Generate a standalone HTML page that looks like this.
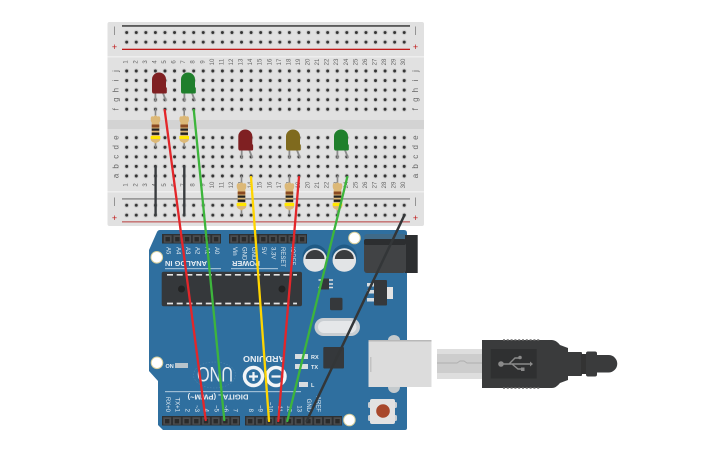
<!DOCTYPE html>
<html><head><meta charset="utf-8"><style>
html,body{margin:0;padding:0;background:#fff;width:725px;height:453px;overflow:hidden}
svg{display:block}
text{font-family:"Liberation Sans",sans-serif}
.n{font-size:6px;fill:#666;text-anchor:middle;dominant-baseline:central}
.l{font-size:8px;fill:#666;text-anchor:middle;dominant-baseline:central}
.p{font-size:6px;fill:#e4ecf2;dominant-baseline:central}
.e{text-anchor:end}
.w{fill:#e8eef3}
</style></head><body>
<svg width="725" height="453" viewBox="0 0 725 453" xmlns="http://www.w3.org/2000/svg">
<defs>
<pattern id="d1" patternUnits="userSpaceOnUse" x="121.9" y="27.7" width="9.57" height="9.6"><circle cx="4.785" cy="4.8" r="2.6" fill="#cfcfcf"/><circle cx="4.785" cy="4.8" r="1.5" fill="#333"/></pattern>
<pattern id="d2" patternUnits="userSpaceOnUse" x="121.9" y="66.2" width="9.57" height="9.57"><circle cx="4.785" cy="4.785" r="2.6" fill="#cfcfcf"/><circle cx="4.785" cy="4.785" r="1.5" fill="#333"/></pattern>
<pattern id="d3" patternUnits="userSpaceOnUse" x="121.9" y="132.9" width="9.57" height="9.57"><circle cx="4.785" cy="4.785" r="2.6" fill="#cfcfcf"/><circle cx="4.785" cy="4.785" r="1.5" fill="#333"/></pattern>
<pattern id="d4" patternUnits="userSpaceOnUse" x="121.9" y="200.3" width="9.57" height="9.9"><circle cx="4.785" cy="4.95" r="2.6" fill="#cfcfcf"/><circle cx="4.785" cy="4.95" r="1.5" fill="#333"/></pattern>
<g id="res">
<path d="M0 -7V0M0 26V32" stroke="#8a8a8a" stroke-width="1.6"/>
<path d="M-2 1Q-4.800 0 -4.800 3.500Q-4.800 6 -3.800 7V20Q-4.800 21 -4.800 23.500Q-4.800 26 -1.500 27L0 28L1.500 27Q4.800 26 4.800 23.500Q4.800 21 3.800 20V7Q4.800 6 4.800 3.500Q4.800 0 2 1Q0 -1 -2 1Z" fill="#dcb877"/>
<rect x="-3.800" y="9" width="7.600" height="3" fill="#8a4a22"/>
<rect x="-3.800" y="13" width="7.600" height="2.200" fill="#222"/>
<rect x="-3.800" y="17" width="7.600" height="2.400" fill="#222"/>
<rect x="-4.800" y="20.500" width="9.600" height="3" fill="#ffe600"/>
</g>
<g id="led">
<path d="M-3.600 19V29M3.600 19L7 28" fill="none" stroke="#8c8c8c" stroke-width="1.800"/>
<path d="M-7 18V6.500A7 7 0 0 1 7 6.500V14L7.800 15V19.500Q7.800 20.500 6 20.500H-5.500Q-7 20.500 -7 18Z"/>
</g>
<g id="hdr"><rect x="0.800" y="0.800" width="7.800" height="7.400" fill="#4b4d4f"/><rect x="2.500" y="2.500" width="4.400" height="4.400" fill="#2a2a2a"/></g>
</defs>

<!-- breadboard -->
<rect x="107.500" y="22" width="316.500" height="204" rx="2" fill="#e1e1e1"/>
<rect x="107.500" y="56" width="316.500" height="1.500" fill="#eeeeee"/>
<rect x="107.500" y="120" width="316.500" height="9" fill="#d3d3d3"/>
<rect x="107.500" y="191" width="316.500" height="1.500" fill="#eeeeee"/>
<rect x="122" y="25.300" width="288" height="1.300" fill="#222"/>
<rect x="122" y="48.700" width="288" height="1.300" fill="#c01818"/>
<rect x="122" y="198.200" width="288" height="1.400" fill="#888"/>
<rect x="122" y="221" width="288" height="1.600" fill="#c77a7a"/>
<rect x="121.900" y="27.700" width="287.100" height="19.200" fill="url(#d1)"/>
<rect x="121.900" y="66.200" width="287.100" height="47.850" fill="url(#d2)"/>
<rect x="121.900" y="132.900" width="287.100" height="47.850" fill="url(#d3)"/>
<rect x="121.900" y="200.300" width="287.100" height="19.800" fill="url(#d4)"/>
<g font-size="9">
<text x="114.500" y="30" text-anchor="middle" fill="#777" dominant-baseline="central">|</text>
<text x="114.500" y="47" text-anchor="middle" fill="#c01818" dominant-baseline="central">+</text>
<text x="415.500" y="30" text-anchor="middle" fill="#777" dominant-baseline="central">|</text>
<text x="415.500" y="47" text-anchor="middle" fill="#c01818" dominant-baseline="central">+</text>
<text x="114.500" y="201" text-anchor="middle" fill="#777" dominant-baseline="central">|</text>
<text x="114.500" y="218" text-anchor="middle" fill="#c01818" dominant-baseline="central">+</text>
<text x="415.500" y="201" text-anchor="middle" fill="#777" dominant-baseline="central">|</text>
<text x="415.500" y="218" text-anchor="middle" fill="#c01818" dominant-baseline="central">+</text>
</g>
<g transform="rotate(-90)" class="nums">
<text class="n" x="-62" y="126.7">1</text><text class="n" x="-62" y="136.3">2</text><text class="n" x="-62" y="145.8">3</text><text class="n" x="-62" y="155.4">4</text><text class="n" x="-62" y="165">5</text><text class="n" x="-62" y="174.5">6</text><text class="n" x="-62" y="184.1">7</text><text class="n" x="-62" y="193.7">8</text><text class="n" x="-62" y="203.3">9</text><text class="n" x="-62" y="212.8">10</text><text class="n" x="-62" y="222.4">11</text><text class="n" x="-62" y="232">12</text><text class="n" x="-62" y="241.5">13</text><text class="n" x="-62" y="251.1">14</text><text class="n" x="-62" y="260.7">15</text><text class="n" x="-62" y="270.3">16</text><text class="n" x="-62" y="279.8">17</text><text class="n" x="-62" y="289.4">18</text><text class="n" x="-62" y="299">19</text><text class="n" x="-62" y="308.5">20</text><text class="n" x="-62" y="318.1">21</text><text class="n" x="-62" y="327.7">22</text><text class="n" x="-62" y="337.2">23</text><text class="n" x="-62" y="346.8">24</text><text class="n" x="-62" y="356.4">25</text><text class="n" x="-62" y="366">26</text><text class="n" x="-62" y="375.5">27</text><text class="n" x="-62" y="385.1">28</text><text class="n" x="-62" y="394.7">29</text><text class="n" x="-62" y="404.2">30</text>
<text class="n" x="-185" y="126.7">1</text><text class="n" x="-185" y="136.3">2</text><text class="n" x="-185" y="145.8">3</text><text class="n" x="-185" y="155.4">4</text><text class="n" x="-185" y="165">5</text><text class="n" x="-185" y="174.5">6</text><text class="n" x="-185" y="184.1">7</text><text class="n" x="-185" y="193.7">8</text><text class="n" x="-185" y="203.3">9</text><text class="n" x="-185" y="212.8">10</text><text class="n" x="-185" y="222.4">11</text><text class="n" x="-185" y="232">12</text><text class="n" x="-185" y="241.5">13</text><text class="n" x="-185" y="251.1">14</text><text class="n" x="-185" y="260.7">15</text><text class="n" x="-185" y="270.3">16</text><text class="n" x="-185" y="279.8">17</text><text class="n" x="-185" y="289.4">18</text><text class="n" x="-185" y="299">19</text><text class="n" x="-185" y="308.5">20</text><text class="n" x="-185" y="318.1">21</text><text class="n" x="-185" y="327.7">22</text><text class="n" x="-185" y="337.2">23</text><text class="n" x="-185" y="346.8">24</text><text class="n" x="-185" y="356.4">25</text><text class="n" x="-185" y="366">26</text><text class="n" x="-185" y="375.5">27</text><text class="n" x="-185" y="385.1">28</text><text class="n" x="-185" y="394.7">29</text><text class="n" x="-185" y="404.2">30</text>
<text class="l" x="-71" y="116">j</text><text class="l" x="-80.600" y="116">i</text><text class="l" x="-90.100" y="116">h</text><text class="l" x="-99.700" y="116">g</text><text class="l" x="-109.300" y="116">f</text>
<text class="l" x="-137.700" y="116">e</text><text class="l" x="-147.300" y="116">d</text><text class="l" x="-156.800" y="116">c</text><text class="l" x="-166.400" y="116">b</text><text class="l" x="-176" y="116">a</text>
<text class="l" x="-71" y="415.500">j</text><text class="l" x="-80.600" y="415.500">i</text><text class="l" x="-90.100" y="415.500">h</text><text class="l" x="-99.700" y="415.500">g</text><text class="l" x="-109.300" y="415.500">f</text>
<text class="l" x="-137.700" y="415.500">e</text><text class="l" x="-147.300" y="415.500">d</text><text class="l" x="-156.800" y="415.500">c</text><text class="l" x="-166.400" y="415.500">b</text><text class="l" x="-176" y="415.500">a</text>
</g>

<!-- resistors -->
<use href="#res" x="155.500" y="115.500"/>
<use href="#res" x="184.200" y="115.500"/>
<use href="#res" x="241.500" y="182.500"/>
<use href="#res" x="289.400" y="182.500"/>
<use href="#res" x="337.500" y="182.500"/>
<!-- LEDs -->
<use href="#led" x="159" y="73" fill="#7f2022"/>
<use href="#led" x="188" y="73" fill="#1f7f2c"/>
<use href="#led" x="245.300" y="130" fill="#7f2022"/>
<use href="#led" x="293" y="130" fill="#7f6a1e"/>
<use href="#led" x="341" y="130" fill="#1f7f2c"/>
<!-- jumpers on breadboard -->
<path d="M155.600 167V215M184.300 167V215" stroke="#3a3d40" stroke-width="2.400" stroke-linecap="round"/>

<!-- Arduino -->
<path d="M160 230H404Q407 230 407 233V428Q407 430 405 430H163L158 425V381L149 371V250L157 232Q158 230 160 230Z" fill="#2f6f9f"/>
<!-- headers -->
<rect x="162" y="234" width="59" height="9.500" fill="#2e3032"/>
<rect x="229" y="234" width="78" height="9.500" fill="#2e3032"/>
<rect x="162" y="416" width="78" height="9.500" fill="#2e3032"/>
<rect x="245" y="416" width="97" height="9.500" fill="#2e3032"/>
<g>
<use href="#hdr" x="163" y="234.500"/><use href="#hdr" x="172.700" y="234.500"/><use href="#hdr" x="182.400" y="234.500"/><use href="#hdr" x="192" y="234.500"/><use href="#hdr" x="201.700" y="234.500"/><use href="#hdr" x="211.400" y="234.500"/>
<use href="#hdr" x="229.500" y="234.500"/><use href="#hdr" x="239.200" y="234.500"/><use href="#hdr" x="248.900" y="234.500"/><use href="#hdr" x="258.600" y="234.500"/><use href="#hdr" x="268.300" y="234.500"/><use href="#hdr" x="278" y="234.500"/><use href="#hdr" x="287.700" y="234.500"/><use href="#hdr" x="297.400" y="234.500"/>
<use href="#hdr" x="162.500" y="416.500"/><use href="#hdr" x="172.200" y="416.500"/><use href="#hdr" x="181.900" y="416.500"/><use href="#hdr" x="191.600" y="416.500"/><use href="#hdr" x="201.300" y="416.500"/><use href="#hdr" x="211" y="416.500"/><use href="#hdr" x="220.700" y="416.500"/><use href="#hdr" x="230.400" y="416.500"/>
<use href="#hdr" x="245.500" y="416.500"/><use href="#hdr" x="255.200" y="416.500"/><use href="#hdr" x="264.900" y="416.500"/><use href="#hdr" x="274.600" y="416.500"/><use href="#hdr" x="284.300" y="416.500"/><use href="#hdr" x="294" y="416.500"/><use href="#hdr" x="303.700" y="416.500"/><use href="#hdr" x="313.400" y="416.500"/><use href="#hdr" x="323.100" y="416.500"/><use href="#hdr" x="332.800" y="416.500"/>
</g>
<!-- pin labels -->
<g transform="rotate(90)">
<text class="p" x="247" y="-167.700">A5</text><text class="p" x="247" y="-177.300">A4</text><text class="p" x="247" y="-187">A3</text><text class="p" x="247" y="-196.600">A2</text><text class="p" x="247" y="-206.300">A1</text><text class="p" x="247" y="-215.800">A0</text>
<text class="p" x="247" y="-234">Vin</text><text class="p" x="247" y="-243.500">GND</text><text class="p" x="247" y="-253.200">GND</text><text class="p" x="247" y="-263">5V</text><text class="p" x="247" y="-272.500">3.3V</text><text class="p" x="247" y="-282">RESET</text><text class="p" x="247" y="-292">IOREF</text>
<text class="p e" x="412" y="-167">RX+0</text><text class="p e" x="412" y="-176.700">TX+1</text><text class="p e" x="412" y="-186.400">2</text><text class="p e" x="412" y="-196">~3</text><text class="p e" x="412" y="-205.700">4</text><text class="p e" x="412" y="-215.400">~5</text><text class="p e" x="412" y="-225">~6</text><text class="p e" x="412" y="-234.700">7</text>
<text class="p e" x="412" y="-250">8</text><text class="p e" x="412" y="-259.700">~9</text><text class="p e" x="412" y="-269.400">~10</text><text class="p e" x="412" y="-279">~11</text><text class="p e" x="412" y="-288.700">12</text><text class="p e" x="412" y="-298.400">13</text><text class="p e" x="412" y="-308">GND</text><text class="p e" x="412" y="-317.700">AREF</text>
</g>
<rect x="165" y="268" width="56" height="1.200" fill="#9dbdd4"/>
<rect x="231" y="268" width="47" height="1.200" fill="#9dbdd4"/>
<rect x="165" y="391" width="136" height="1.200" fill="#9dbdd4"/>
<text class="w" transform="translate(186,261) rotate(180)" font-size="7" font-weight="bold" text-anchor="middle" textLength="42" lengthAdjust="spacingAndGlyphs">ANALOG IN</text>
<text class="w" transform="translate(246,261) rotate(180)" font-size="7" font-weight="bold" text-anchor="middle" textLength="28" lengthAdjust="spacingAndGlyphs">POWER</text>
<text class="w" transform="translate(218,394.500) rotate(180)" font-size="7" font-weight="bold" text-anchor="middle" textLength="61" lengthAdjust="spacingAndGlyphs">DIGITAL (PWM~)</text>
<!-- IC -->
<rect x="161.700" y="271.700" width="140.300" height="34.500" rx="2" fill="#35383b"/>
<circle cx="181.500" cy="289" r="3.500" fill="#222"/><circle cx="282" cy="289" r="3.500" fill="#222"/>
<path d="M167 274.800H297M167 303.500H297" stroke="#e4e4e4" stroke-width="1.700" stroke-dasharray="6 3.700"/>
<!-- caps -->
<circle cx="315" cy="257" r="12.500" fill="#1f5a85"/><circle cx="344.300" cy="257" r="12.500" fill="#1f5a85"/>
<circle cx="315" cy="260" r="11.800" fill="#e2e4e6"/><circle cx="344.300" cy="260" r="11.800" fill="#e2e4e6"/>
<path d="M305.500 259A9.500 9 0 0 1 324.500 259ZM334.800 259A9.500 9 0 0 1 353.800 259Z" fill="#3a3c3e"/>
<!-- power jack -->
<rect x="364" y="234" width="43" height="6" rx="3" fill="#3f6a88"/>
<rect x="405" y="235" width="12.700" height="38" fill="#2c2e30"/>
<rect x="364" y="239" width="42" height="34" rx="3" fill="#414345"/>
<rect x="364" y="239" width="42" height="6" rx="2" fill="#2c2e30"/>
<!-- small parts -->
<path d="M328 280H333M328 284H333M328 287.500H333" stroke="#ddd" stroke-width="1.600"/>
<path d="M318.500 280H322M318.500 287.500H322" stroke="#ddd" stroke-width="1.600"/>
<rect x="321" y="278.500" width="8" height="11" fill="#35383b"/>
<rect x="330" y="297.700" width="12.500" height="12.500" rx="1.500" fill="#35383b"/>
<rect x="367" y="283" width="8" height="3.500" fill="#d8dde0"/><rect x="367" y="290" width="8" height="3.500" fill="#d8dde0"/><rect x="367" y="298" width="8" height="3.500" fill="#d8dde0"/>
<rect x="386" y="287" width="7" height="12" fill="#e4e4e4"/>
<rect x="374" y="280" width="13" height="25.500" rx="1" fill="#35383b"/>
<rect x="314.500" y="318" width="45.500" height="18" rx="9" fill="#c9ced2"/>
<rect x="318" y="321" width="38.500" height="12" rx="6" fill="#e5e7e9"/>
<rect x="323.300" y="347" width="20.700" height="21.500" rx="1" fill="#35383b"/>
<!-- small LEDs -->
<rect x="295" y="354" width="13" height="5" fill="#d8dde0"/><rect x="295" y="364" width="13" height="5" fill="#d8dde0"/><rect x="299" y="382" width="9" height="5" fill="#d8dde0"/><rect x="175" y="363" width="13" height="5" fill="#b8c4cc"/>
<text class="w" x="311" y="359" font-size="5.500" font-weight="bold">RX</text>
<text class="w" x="311" y="369" font-size="5.500" font-weight="bold">TX</text>
<text class="w" x="311" y="387" font-size="5.500" font-weight="bold">L</text>
<text class="w" x="165.500" y="368" font-size="5.500" font-weight="bold">ON</text>
<!-- logo -->
<ellipse cx="214.500" cy="375" rx="21" ry="13" fill="none" stroke="#4f86ad" stroke-width="0.600" stroke-dasharray="1.500 1.500"/>
<text class="w" transform="translate(233,367) rotate(180)" font-size="21" textLength="36" lengthAdjust="spacingAndGlyphs">UNO</text>
<text class="w" transform="translate(285,356) rotate(180)" font-size="8.500" font-weight="bold" textLength="42" lengthAdjust="spacingAndGlyphs">ARDUINO</text>
<circle cx="253.500" cy="376.500" r="9" fill="none" stroke="#f2f5f7" stroke-width="3.500"/>
<circle cx="276" cy="376.500" r="9" fill="none" stroke="#f2f5f7" stroke-width="3.500"/>
<path d="M249 376.500H258M253.500 372V381M271.500 376.500H280.500" stroke="#f2f5f7" stroke-width="2.200"/>
<!-- holes -->
<g fill="#fff" stroke="#d8cf9c" stroke-width="1">
<circle cx="354.500" cy="238" r="5.800"/><circle cx="156.800" cy="257.300" r="5.800"/><circle cx="157" cy="362.800" r="5.800"/><circle cx="349.400" cy="420" r="5.800"/>
</g>
<!-- USB socket -->
<ellipse cx="394" cy="340" rx="6" ry="5" fill="#c4cacd"/><ellipse cx="394" cy="387" rx="6" ry="6" fill="#c4cacd"/>
<rect x="368.500" y="340" width="63" height="47" fill="#dcdcdc"/>
<rect x="368.500" y="340" width="63" height="1.500" fill="#b8b8b8"/>
<rect x="370" y="357" width="1.500" height="15" fill="#c2c2c2"/>
<!-- reset -->
<rect x="368" y="402" width="29" height="6" rx="1.500" fill="#c7cdd2"/><rect x="368" y="415" width="29" height="6" rx="1.500" fill="#c7cdd2"/>
<rect x="370" y="399" width="25" height="25" rx="2" fill="#e2e2e2"/>
<circle cx="383" cy="411" r="6.800" fill="#a8482c"/>

<!-- USB cable -->
<rect x="437" y="349" width="45" height="30" fill="#cdcdcd"/>
<rect x="437" y="349" width="45" height="5" fill="#dedede"/>
<rect x="437" y="373" width="45" height="6" fill="#dedede"/>
<path d="M437 363H457L460 361H464L467 363H482" stroke="#b0b0b0" fill="none"/>
<path d="M482 340H552Q556 340 560 345L568 348V380L560 383Q556 388 552 388H482Z" fill="#3a3b3c"/>
<rect x="490.700" y="349" width="46" height="29.500" fill="#2f3031"/>
<path d="M503 340H540M503 388H540" stroke="#6a6a6a" stroke-width="1.500" stroke-dasharray="2 1.800"/>
<g stroke="#8a8a8a" stroke-width="1.400" fill="none"><path d="M503 364H530M509 364L515 358H519M512 364L518 369H522"/></g>
<circle cx="501" cy="364" r="2.800" fill="#8a8a8a"/><path d="M530 361.500L533 364L530 366.500Z" fill="#8a8a8a"/><circle cx="520" cy="357.500" r="1.800" fill="#8a8a8a"/><rect x="521" y="367.500" width="3.500" height="3.500" fill="#8a8a8a"/>
<rect x="566" y="352" width="16" height="24" rx="1" fill="#3a3b3c"/>
<rect x="581" y="354" width="6" height="20" fill="#333"/>
<rect x="586" y="351.500" width="11" height="25" rx="2" fill="#3a3b3c"/>
<path d="M596 355H608.500A8.500 8.500 0 0 1 608.500 372.500H596Z" fill="#3a3b3c"/>

<!-- wires -->
<g fill="none" stroke-width="2.300" stroke-linecap="round">
<path d="M164.700 110L205.700 420" stroke="#e3262a"/>
<path d="M193.800 110L224.300 420" stroke="#3db53c"/>
<path d="M251 177L269 421" stroke="#ffd500"/>
<path d="M299 177L278.300 421" stroke="#e3262a"/>
<path d="M347.300 177L287.300 421" stroke="#3db53c"/>
<path d="M404.500 215L306.700 421" stroke="#333638" stroke-width="2.500"/>
</g>
</svg>
</body></html>
